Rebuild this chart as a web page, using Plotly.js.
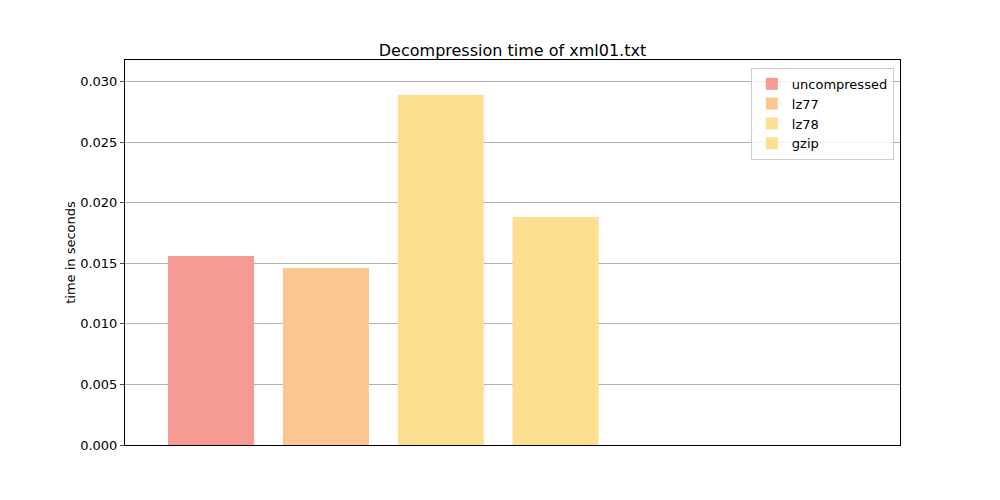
<!DOCTYPE html>
<html>
<head>
<script src="https://cdn.plot.ly/plotly-3.0.1.min.js"></script>
<style>body{margin:0}</style>
</head>
<body>
<div id="chart" style="width:1000px;height:500px"></div>
<script>
// decompression times
let names = ['uncompressed', 'lz77', 'lz78', 'gzip'];
let times = [0.01562, 0.01463, 0.02893, 0.01884];
let colors = ['#f69a94', '#fbc68f', '#fddf91', '#fddf91'];

var data = names.map((n, i) => ({
    x: [i],
    y: [times[i]],
    type: 'bar',
    name: n,
    width: 0.75,
    marker: {color: colors[i]},
    hoverinfo: 'y'
}));

var layout = {
    width: 1000,
    height: 500,
    paper_bgcolor: 'white',
    plot_bgcolor: 'white',
    font: {family: 'DejaVu Sans', size: 13, color: 'black'},
    margin: {l: 125, r: 100, t: 60, b: 55},
    title: {text: 'Decompression time of xml01.txt', x: 0.5125, y: 0.91, font: {size: 16}},
    showlegend: true,
    legend: {
        x: 0.992, y: 0.98, xanchor: 'right', yanchor: 'top',
        bordercolor: '#cccccc', borderwidth: 1, bgcolor: 'rgba(255,255,255,0.8)',
        font: {size: 13}, traceorder: 'normal'
    },
    xaxis: {
        range: [-0.75, 6],
        showticklabels: false,
        ticks: '',
        showgrid: false,
        zeroline: false,
        showline: true, mirror: true, linecolor: 'black', linewidth: 1
    },
    yaxis: {
        title: {text: 'time in seconds', font: {size: 13}},
        range: [0, 0.0318],
        tickvals: [0, 0.005, 0.01, 0.015, 0.02, 0.025, 0.03],
        tickformat: '.3f',
        ticks: 'outside', ticklen: 4,
        showgrid: true, gridcolor: '#b0b0b0',
        zeroline: false,
        showline: true, mirror: true, linecolor: 'black', linewidth: 1
    }
};

Plotly.newPlot('chart', data, layout, {displayModeBar: false});
</script>
</body>
</html>
